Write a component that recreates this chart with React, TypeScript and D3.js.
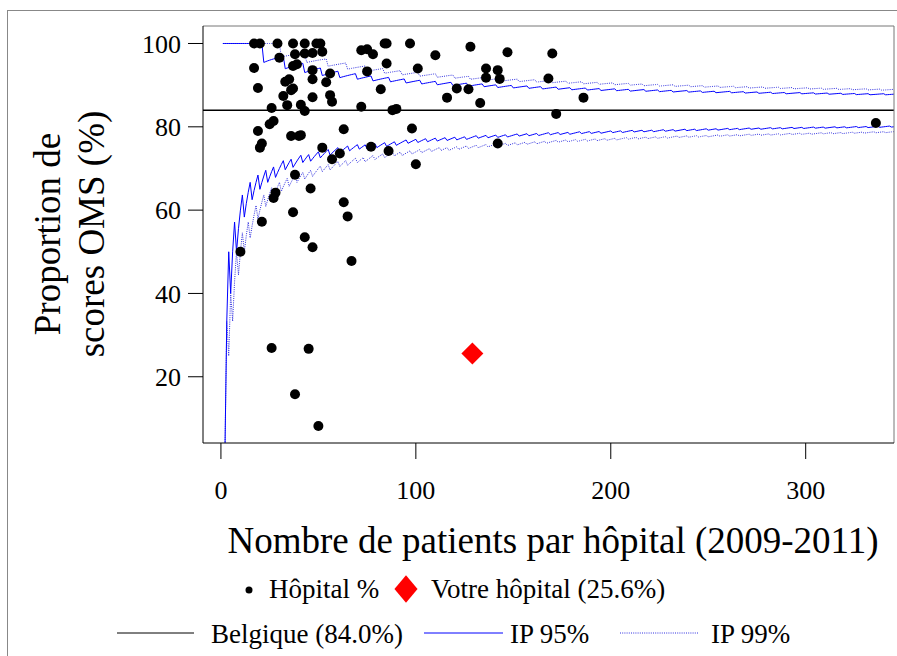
import * as d3 from 'd3';

// taille hospitalière (n) et proportion observée (%)
const hospitalN = [
  17, 20, 29, 37, 43, 49, 51, 38, 43, 47, 52, 30, 17, 37, 39, 47, 56, 19, 33, 35,
  47, 54, 36, 37, 32, 34, 41, 43, 47, 56, 57, 26, 27, 25, 19, 21, 20, 36, 40, 41,
  52, 63, 61, 57, 72, 75, 78, 84, 85, 85, 75, 82, 72, 88, 90, 77, 86, 38, 46, 28,
  27, 63, 65, 37, 21, 43, 47, 67, 10, 26, 45, 38, 50, 97, 110, 101, 128, 147, 170, 116,
  121, 127, 136, 136, 142, 143, 133, 168, 186, 172, 98, 142, 336, 100,
];
const hospitalPct = [
  100, 100, 100, 100, 100, 100, 100, 97.4, 97.6, 97.7, 98.0, 96.6, 94.1, 94.6, 95.0, 93.6, 92.8, 89.3, 90.8, 91.4,
  91.4, 90.7, 88.8, 89.2, 87.4, 85.2, 85.3, 83.8, 87.1, 87.6, 86.0, 84.5, 81.4, 80.6, 79.0, 76.0, 75.0, 77.8, 77.8, 78.0,
  75.0, 79.4, 73.6, 72.2, 98.4, 98.6, 97.4, 100, 100, 95.2, 93.3, 89.0, 84.8, 84.0, 84.3, 75.2, 74.2, 68.5, 65.2, 64.2,
  62.9, 61.9, 58.5, 59.5, 57.2, 53.5, 51.1, 47.8, 50.0, 26.9, 26.7, 15.8, 8.2, 100, 97.2, 94.0, 99.2, 97.9, 97.6, 87.0,
  89.2, 89.0, 94.0, 91.8, 93.6, 91.5, 85.7, 91.6, 87.0, 83.1, 79.6, 76.0, 80.9, 71.0,
];

const yourHospitalN = 129;
const yourHospitalPct = 25.6;
const belgiumPct = 84.0;

const xTicks = [0, 100, 200, 300];
const yTicks = [20, 40, 60, 80, 100];

// limites du funnel: quantiles binomiaux exacts autour de la moyenne belge
function qbinom(prob: number, n: number, p: number) {
  let pmf = Math.pow(1 - p, n);
  let cdf = pmf;
  let k = 0;
  while (cdf < prob * (1 - 1e-12) && k < n) {
    pmf = (pmf * (n - k)) / (k + 1) * (p / (1 - p));
    k++;
    cdf += pmf;
  }
  return k;
}

const sizes = d3.range(1, 351);
function limit(prob: number) {
  return sizes.map(n => ({ n, v: (100 * qbinom(prob, n, belgiumPct / 100)) / n }));
}
const up95 = limit(0.975);
const lo95 = limit(0.025);
const up99 = limit(0.995);
const lo99 = limit(0.005);

const W = 897;
const H = 656;
const plot = { left: 203, right: 894, top: 26, bottom: 443 };
const font = '"Liberation Serif", "Times New Roman", serif';

export default function App() {
  const x = d3.scaleLinear().domain([-9.2, 345.3]).range([plot.left, plot.right]);
  const y = d3.scaleLinear().domain([4.1, 104.2]).range([plot.bottom, plot.top]);

  const line = d3.line<{ n: number; v: number }>()
    .x(d => x(d.n))
    .y(d => y(d.v));

  const diamond = d3.symbol(d3.symbolSquare, 242)();

  return (
    <svg width={W} height={H} style={{ position: 'absolute', left: 0, top: 0, background: '#fff' }} fontFamily={font}>
      <rect x={0} y={0} width={W} height={H} fill="#fff" />
      {/* cadre extérieur */}
      <rect x={7.5} y={10.5} width={W + 20} height={H + 20} fill="none" stroke="#888" strokeWidth={1} />

      <defs>
        <clipPath id="plotclip">
          <rect x={plot.left} y={plot.top} width={plot.right - plot.left} height={plot.bottom - plot.top} />
        </clipPath>
      </defs>

      <g clipPath="url(#plotclip)">
        <line x1={plot.left} x2={plot.right} y1={y(belgiumPct)} y2={y(belgiumPct)} stroke="#000" strokeWidth={1.5} />
        <path d={line(up99) ?? ''} fill="none" stroke="#3030e0" strokeWidth={1} strokeDasharray="1,1.2" />
        <path d={line(lo99) ?? ''} fill="none" stroke="#3030e0" strokeWidth={1} strokeDasharray="1,1.2" />
        <path d={line(up95) ?? ''} fill="none" stroke="#0000ff" strokeWidth={1} />
        <path d={line(lo95) ?? ''} fill="none" stroke="#0000ff" strokeWidth={1} />
        {hospitalN.map((n, i) => (
          <circle key={i} cx={x(n)} cy={y(hospitalPct[i])} r={5} fill="#000" />
        ))}
        <path d={diamond} transform={`translate(${x(yourHospitalN)},${y(yourHospitalPct)}) rotate(45)`} fill="#ff0000" />
      </g>

      {/* boîte */}
      <line x1={plot.left} x2={plot.right} y1={plot.top} y2={plot.top} stroke="#777" />
      <line x1={plot.right} x2={plot.right} y1={plot.top} y2={plot.bottom} stroke="#777" />
      <line x1={plot.left} x2={plot.left} y1={plot.top} y2={plot.bottom} stroke="#000" />
      <line x1={plot.left} x2={plot.right} y1={plot.bottom} y2={plot.bottom} stroke="#000" />

      {/* axe y */}
      {yTicks.map(t => (
        <g key={t}>
          <line x1={188} x2={plot.left} y1={y(t)} y2={y(t)} stroke="#000" />
          <text x={181} y={y(t)} dy="0.35em" textAnchor="end" fontSize={26}>{t}</text>
        </g>
      ))}
      {/* axe x */}
      {xTicks.map(t => (
        <g key={t}>
          <line x1={x(t)} x2={x(t)} y1={plot.bottom} y2={plot.bottom + 16} stroke="#000" />
          <text x={x(t)} y={499} textAnchor="middle" fontSize={26}>{t}</text>
        </g>
      ))}

      <text x={553} y={553} textAnchor="middle" fontSize={37}>Nombre de patients par hôpital (2009-2011)</text>
      <g transform="translate(0,234) rotate(-90)">
        <text x={0} y={60} textAnchor="middle" fontSize={37}>Proportion de</text>
        <text x={0} y={104} textAnchor="middle" fontSize={37}>scores OMS (%)</text>
      </g>

      {/* légende */}
      <circle cx={249} cy={590} r={3.5} fill="#000" />
      <text x={269} y={598} fontSize={27}>Hôpital %</text>
      <path d={diamond} transform="translate(406,589) scale(1.05,1.25) rotate(45)" fill="#ff0000" />
      <text x={431} y={598} fontSize={27}>Votre hôpital (25.6%)</text>

      <line x1={117} x2={194} y1={633} y2={633} stroke="#000" strokeWidth={1} />
      <text x={211} y={643} fontSize={27}>Belgique (84.0%)</text>
      <line x1={424} x2={503} y1={633} y2={633} stroke="#0000ff" strokeWidth={1} />
      <text x={510} y={643} fontSize={27}>IP 95%</text>
      <line x1={620} x2={698} y1={633} y2={633} stroke="#3030e0" strokeWidth={1} strokeDasharray="1,1.2" />
      <text x={711} y={643} fontSize={27}>IP 99%</text>
    </svg>
  );
}
